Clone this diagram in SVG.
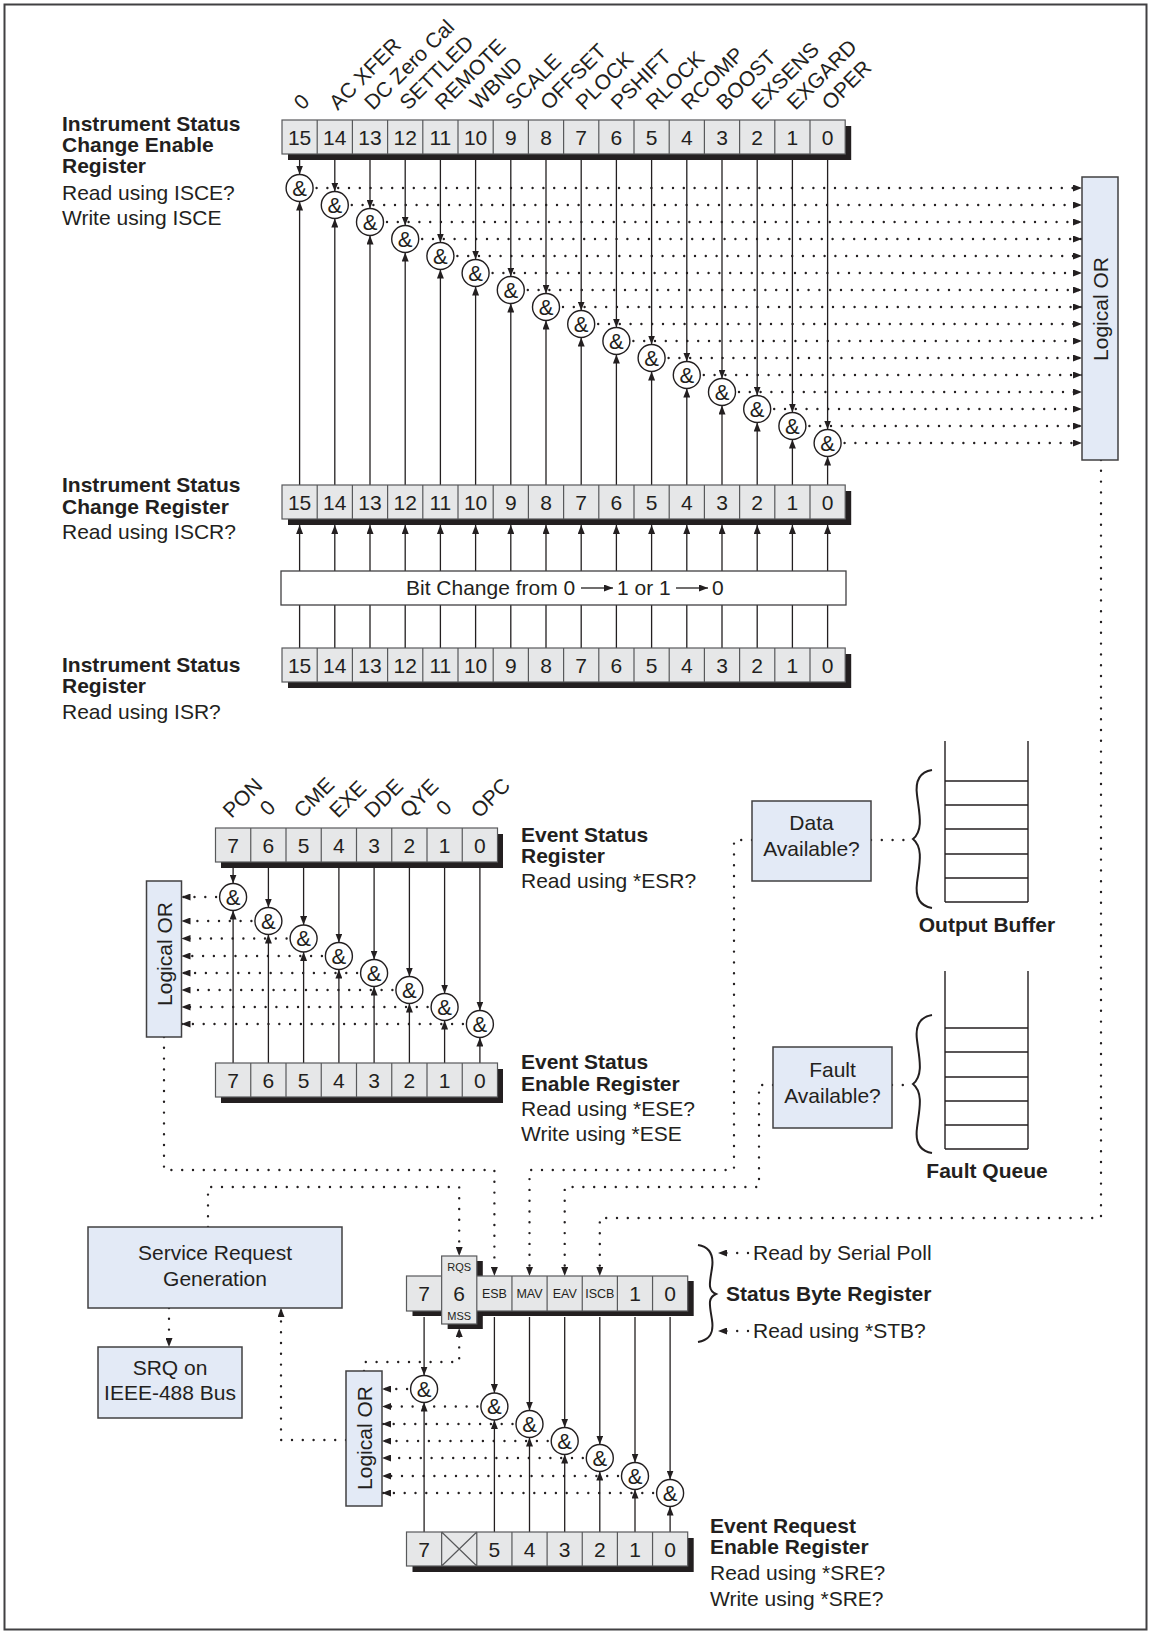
<svg xmlns="http://www.w3.org/2000/svg" width="1151" height="1634" viewBox="0 0 1151 1634">
<defs>
<marker id="a" viewBox="0 0 9 7" refX="9" refY="3.5" markerWidth="9" markerHeight="7" markerUnits="userSpaceOnUse" orient="auto"><path d="M0,0 L9,3.5 L0,7 z" fill="#231f20"/></marker>
<style>
text{font-family:"Liberation Sans",Arial,sans-serif;fill:#231f20}
.t{font-size:21px}
.b{font-size:21px;font-weight:bold}
.num{font-size:21px;text-anchor:middle}
.sm{font-size:12.5px;text-anchor:middle}
.xs{font-size:11px;text-anchor:middle}
.mid{text-anchor:middle}
.reg{fill:#e6e7e8;stroke:#58595b;stroke-width:1.2}
.sh{fill:#231f20}
.dv{stroke:#58595b;stroke-width:1.2;fill:none}
.box{fill:#e3eaf6;stroke:#414042;stroke-width:1.5}
.g{fill:#fff;stroke:#231f20;stroke-width:1.4}
.amp{font-size:22px;text-anchor:middle}
.ln{stroke:#231f20;stroke-width:1.3;fill:none}
.ar{marker-end:url(#a)}
.dt{stroke:#231f20;stroke-width:2.4;stroke-linecap:round;stroke-dasharray:0 10.8;fill:none}
.st{stroke:#231f20;stroke-width:1.4;fill:none}
.br{stroke:#231f20;stroke-width:2;fill:none}
</style>
</defs>
<rect x="4.5" y="4.5" width="1142" height="1625" fill="#fff" stroke="#414042" stroke-width="2"/>

<g id="connectors">
<path class="ln ar" d="M299.6,160V174.5"/><path class="ln ar" d="M334.8,160V191.5"/><path class="ln ar" d="M370,160V208.5"/><path class="ln ar" d="M405.2,160V225.5"/>
<path class="ln ar" d="M440.4,160V242.5"/><path class="ln ar" d="M475.6,160V259.5"/><path class="ln ar" d="M510.8,160V276.5"/><path class="ln ar" d="M546,160V293.5"/>
<path class="ln ar" d="M581.2,160V310.5"/><path class="ln ar" d="M616.4,160V327.5"/><path class="ln ar" d="M651.6,160V344.5"/><path class="ln ar" d="M686.8,160V361.5"/>
<path class="ln ar" d="M722,160V378.5"/><path class="ln ar" d="M757.2,160V395.5"/><path class="ln ar" d="M792.4,160V412.5"/><path class="ln ar" d="M827.6,160V429.5"/>
<path class="ln ar" d="M299.6,485V201.5"/><path class="ln ar" d="M334.8,485V218.5"/><path class="ln ar" d="M370,485V235.5"/><path class="ln ar" d="M405.2,485V252.5"/>
<path class="ln ar" d="M440.4,485V269.5"/><path class="ln ar" d="M475.6,485V286.5"/><path class="ln ar" d="M510.8,485V303.5"/><path class="ln ar" d="M546,485V320.5"/>
<path class="ln ar" d="M581.2,485V337.5"/><path class="ln ar" d="M616.4,485V354.5"/><path class="ln ar" d="M651.6,485V371.5"/><path class="ln ar" d="M686.8,485V388.5"/>
<path class="ln ar" d="M722,485V405.5"/><path class="ln ar" d="M757.2,485V422.5"/><path class="ln ar" d="M792.4,485V439.5"/><path class="ln ar" d="M827.6,485V456.5"/>
<path class="dt ar" d="M316.6,188H1082"/><path class="dt ar" d="M351.8,205H1082"/><path class="dt ar" d="M387,222H1082"/><path class="dt ar" d="M422.2,239H1082"/>
<path class="dt ar" d="M457.4,256H1082"/><path class="dt ar" d="M492.6,273H1082"/><path class="dt ar" d="M527.8,290H1082"/><path class="dt ar" d="M563,307H1082"/>
<path class="dt ar" d="M598.2,324H1082"/><path class="dt ar" d="M633.4,341H1082"/><path class="dt ar" d="M668.6,358H1082"/><path class="dt ar" d="M703.8,375H1082"/>
<path class="dt ar" d="M739,392H1082"/><path class="dt ar" d="M774.2,409H1082"/><path class="dt ar" d="M809.4,426H1082"/><path class="dt ar" d="M844.6,443H1082"/>
<path class="ln ar" d="M299.6,571V525"/><path class="ln ar" d="M334.8,571V525"/><path class="ln ar" d="M370,571V525"/><path class="ln ar" d="M405.2,571V525"/>
<path class="ln ar" d="M440.4,571V525"/><path class="ln ar" d="M475.6,571V525"/><path class="ln ar" d="M510.8,571V525"/><path class="ln ar" d="M546,571V525"/>
<path class="ln ar" d="M581.2,571V525"/><path class="ln ar" d="M616.4,571V525"/><path class="ln ar" d="M651.6,571V525"/><path class="ln ar" d="M686.8,571V525"/>
<path class="ln ar" d="M722,571V525"/><path class="ln ar" d="M757.2,571V525"/><path class="ln ar" d="M792.4,571V525"/><path class="ln ar" d="M827.6,571V525"/>
<path class="ln" d="M299.6,648V605M334.8,648V605M370,648V605M405.2,648V605M440.4,648V605M475.6,648V605M510.8,648V605M546,648V605M581.2,648V605M616.4,648V605M651.6,648V605M686.8,648V605M722,648V605M757.2,648V605M792.4,648V605M827.6,648V605"/>

<path class="ln ar" d="M233.1,868V883.5"/><path class="ln ar" d="M268.4,868V907.5"/><path class="ln ar" d="M303.6,868V925"/><path class="ln ar" d="M338.9,868V942.5"/>
<path class="ln ar" d="M374.1,868V959.5"/><path class="ln ar" d="M409.4,868V976.5"/><path class="ln ar" d="M444.6,868V993.5"/><path class="ln ar" d="M479.9,868V1010.5"/>
<path class="ln ar" d="M233.1,1063V910.5"/><path class="ln ar" d="M268.4,1063V934.5"/><path class="ln ar" d="M303.6,1063V952"/><path class="ln ar" d="M338.9,1063V969.5"/>
<path class="ln ar" d="M374.1,1063V986.5"/><path class="ln ar" d="M409.4,1063V1003.5"/><path class="ln ar" d="M444.6,1063V1020.5"/><path class="ln ar" d="M479.9,1063V1037.5"/>
<path class="dt ar" d="M216.1,897H181.5"/><path class="dt ar" d="M251.4,921H181.5"/><path class="dt ar" d="M286.6,938.5H181.5"/><path class="dt ar" d="M321.9,956H181.5"/>
<path class="dt ar" d="M357.1,973H181.5"/><path class="dt ar" d="M392.4,990H181.5"/><path class="dt ar" d="M427.6,1007H181.5"/><path class="dt ar" d="M462.9,1024H181.5"/>

<path class="ln ar" d="M424.1,1317V1375.5"/><path class="ln ar" d="M494.4,1317V1393"/><path class="ln ar" d="M529.5,1317V1410.5"/><path class="ln ar" d="M564.7,1317V1427.5"/>
<path class="ln ar" d="M599.8,1317V1444.5"/><path class="ln ar" d="M635,1317V1462.5"/><path class="ln ar" d="M670.1,1317V1479.5"/>
<path class="ln ar" d="M424.1,1532V1402.5"/><path class="ln ar" d="M494.4,1532V1420"/><path class="ln ar" d="M529.5,1532V1437.5"/><path class="ln ar" d="M564.7,1532V1454.5"/>
<path class="ln ar" d="M599.8,1532V1471.5"/><path class="ln ar" d="M635,1532V1489.5"/><path class="ln ar" d="M670.1,1532V1506.5"/>
<path class="dt ar" d="M407.1,1389H382"/><path class="dt ar" d="M477.4,1406.5H382"/><path class="dt ar" d="M512.5,1424H382"/><path class="dt ar" d="M547.7,1441H382"/>
<path class="dt ar" d="M582.8,1458H382"/><path class="dt ar" d="M618,1476H382"/><path class="dt ar" d="M653.1,1493H382"/>

<path class="dt ar" d="M1101,460V1218H599.8V1276"/>
<path class="dt ar" d="M164,1037V1170H494.4V1276"/>
<path class="dt ar" d="M752,840H734V1170H529.5V1276"/>
<path class="dt ar" d="M773,1085H759V1187H564.7V1276"/>
<path class="dt" d="M871,840H912"/>
<path class="dt" d="M892,1085H912"/>
<path class="dt ar" d="M208,1227V1187H459.2V1256"/>
<path class="dt ar" d="M169,1308V1347"/>
<path class="dt ar" d="M346,1440H281V1308"/>
<path class="dt ar" d="M364,1371V1362H459.2V1328"/>
<path class="dt ar" d="M748,1253H718"/>
<path class="dt ar" d="M748,1331H718"/>
</g>

<g id="isce-register">
<rect class="sh" x="288" y="126" width="563.2" height="34"/>
<rect class="reg" x="282" y="120" width="563.2" height="34"/>
<path class="dv" d="M317.2,120v34M352.4,120v34M387.6,120v34M422.8,120v34M458,120v34M493.2,120v34M528.4,120v34M563.6,120v34M598.8,120v34M634,120v34M669.2,120v34M704.4,120v34M739.6,120v34M774.8,120v34M810,120v34"/>
<text class="num" x="299.6" y="145">15</text><text class="num" x="334.8" y="145">14</text><text class="num" x="370" y="145">13</text><text class="num" x="405.2" y="145">12</text>
<text class="num" x="440.4" y="145">11</text><text class="num" x="475.6" y="145">10</text><text class="num" x="510.8" y="145">9</text><text class="num" x="546" y="145">8</text>
<text class="num" x="581.2" y="145">7</text><text class="num" x="616.4" y="145">6</text><text class="num" x="651.6" y="145">5</text><text class="num" x="686.8" y="145">4</text>
<text class="num" x="722" y="145">3</text><text class="num" x="757.2" y="145">2</text><text class="num" x="792.4" y="145">1</text><text class="num" x="827.6" y="145">0</text>
<text class="t" transform="translate(302.6,111) rotate(-45)">0</text>
<text class="t" transform="translate(337.8,111) rotate(-45)">AC XFER</text>
<text class="t" transform="translate(373,111) rotate(-45)">DC Zero Cal</text>
<text class="t" transform="translate(408.2,111) rotate(-45)">SETTLED</text>
<text class="t" transform="translate(443.4,111) rotate(-45)">REMOTE</text>
<text class="t" transform="translate(478.6,111) rotate(-45)">WBND</text>
<text class="t" transform="translate(513.8,111) rotate(-45)">SCALE</text>
<text class="t" transform="translate(549,111) rotate(-45)">OFFSET</text>
<text class="t" transform="translate(584.2,111) rotate(-45)">PLOCK</text>
<text class="t" transform="translate(619.4,111) rotate(-45)">PSHIFT</text>
<text class="t" transform="translate(654.6,111) rotate(-45)">RLOCK</text>
<text class="t" transform="translate(689.8,111) rotate(-45)">RCOMP</text>
<text class="t" transform="translate(725,111) rotate(-45)">BOOST</text>
<text class="t" transform="translate(760.2,111) rotate(-45)">EXSENS</text>
<text class="t" transform="translate(795.4,111) rotate(-45)">EXGARD</text>
<text class="t" transform="translate(830.6,111) rotate(-45)">OPER</text>
<text class="b" x="62" y="131">Instrument Status</text>
<text class="b" x="62" y="152">Change Enable</text>
<text class="b" x="62" y="173">Register</text>
<text class="t" x="62" y="200">Read using ISCE?</text>
<text class="t" x="62" y="225">Write using ISCE</text>
</g>

<g id="isce-gates">
<circle class="g" cx="299.6" cy="188" r="13.5"/><circle class="g" cx="334.8" cy="205" r="13.5"/><circle class="g" cx="370" cy="222" r="13.5"/><circle class="g" cx="405.2" cy="239" r="13.5"/>
<circle class="g" cx="440.4" cy="256" r="13.5"/><circle class="g" cx="475.6" cy="273" r="13.5"/><circle class="g" cx="510.8" cy="290" r="13.5"/><circle class="g" cx="546" cy="307" r="13.5"/>
<circle class="g" cx="581.2" cy="324" r="13.5"/><circle class="g" cx="616.4" cy="341" r="13.5"/><circle class="g" cx="651.6" cy="358" r="13.5"/><circle class="g" cx="686.8" cy="375" r="13.5"/>
<circle class="g" cx="722" cy="392" r="13.5"/><circle class="g" cx="757.2" cy="409" r="13.5"/><circle class="g" cx="792.4" cy="426" r="13.5"/><circle class="g" cx="827.6" cy="443" r="13.5"/>
<text class="amp" x="299.6" y="195.8">&amp;</text><text class="amp" x="334.8" y="212.8">&amp;</text><text class="amp" x="370" y="229.8">&amp;</text><text class="amp" x="405.2" y="246.8">&amp;</text>
<text class="amp" x="440.4" y="263.8">&amp;</text><text class="amp" x="475.6" y="280.8">&amp;</text><text class="amp" x="510.8" y="297.8">&amp;</text><text class="amp" x="546" y="314.8">&amp;</text>
<text class="amp" x="581.2" y="331.8">&amp;</text><text class="amp" x="616.4" y="348.8">&amp;</text><text class="amp" x="651.6" y="365.8">&amp;</text><text class="amp" x="686.8" y="382.8">&amp;</text>
<text class="amp" x="722" y="399.8">&amp;</text><text class="amp" x="757.2" y="416.8">&amp;</text><text class="amp" x="792.4" y="433.8">&amp;</text><text class="amp" x="827.6" y="450.8">&amp;</text>
</g>

<g id="isce-or">
<rect class="box" x="1082" y="177" width="36" height="283"/>
<text class="t mid" transform="translate(1107.5,309) rotate(-90)">Logical OR</text>
</g>

<g id="iscr-register">
<rect class="sh" x="288" y="491" width="563.2" height="34"/>
<rect class="reg" x="282" y="485" width="563.2" height="34"/>
<path class="dv" d="M317.2,485v34M352.4,485v34M387.6,485v34M422.8,485v34M458,485v34M493.2,485v34M528.4,485v34M563.6,485v34M598.8,485v34M634,485v34M669.2,485v34M704.4,485v34M739.6,485v34M774.8,485v34M810,485v34"/>
<text class="num" x="299.6" y="510">15</text><text class="num" x="334.8" y="510">14</text><text class="num" x="370" y="510">13</text><text class="num" x="405.2" y="510">12</text>
<text class="num" x="440.4" y="510">11</text><text class="num" x="475.6" y="510">10</text><text class="num" x="510.8" y="510">9</text><text class="num" x="546" y="510">8</text>
<text class="num" x="581.2" y="510">7</text><text class="num" x="616.4" y="510">6</text><text class="num" x="651.6" y="510">5</text><text class="num" x="686.8" y="510">4</text>
<text class="num" x="722" y="510">3</text><text class="num" x="757.2" y="510">2</text><text class="num" x="792.4" y="510">1</text><text class="num" x="827.6" y="510">0</text>
<text class="b" x="62" y="492">Instrument Status</text>
<text class="b" x="62" y="514">Change Register</text>
<text class="t" x="62" y="539">Read using ISCR?</text>
</g>

<g id="bit-change">
<rect x="281" y="571" width="565" height="34" fill="#fff" stroke="#414042" stroke-width="1.3"/>
<text class="t" x="406" y="595">Bit Change from 0</text>
<path class="ln ar" d="M581,588H613"/>
<text class="t" x="617" y="595">1 or 1</text>
<path class="ln ar" d="M676,588H708"/>
<text class="t" x="712" y="595">0</text>
</g>

<g id="isr-register">
<rect class="sh" x="288" y="654" width="563.2" height="34"/>
<rect class="reg" x="282" y="648" width="563.2" height="34"/>
<path class="dv" d="M317.2,648v34M352.4,648v34M387.6,648v34M422.8,648v34M458,648v34M493.2,648v34M528.4,648v34M563.6,648v34M598.8,648v34M634,648v34M669.2,648v34M704.4,648v34M739.6,648v34M774.8,648v34M810,648v34"/>
<text class="num" x="299.6" y="673">15</text><text class="num" x="334.8" y="673">14</text><text class="num" x="370" y="673">13</text><text class="num" x="405.2" y="673">12</text>
<text class="num" x="440.4" y="673">11</text><text class="num" x="475.6" y="673">10</text><text class="num" x="510.8" y="673">9</text><text class="num" x="546" y="673">8</text>
<text class="num" x="581.2" y="673">7</text><text class="num" x="616.4" y="673">6</text><text class="num" x="651.6" y="673">5</text><text class="num" x="686.8" y="673">4</text>
<text class="num" x="722" y="673">3</text><text class="num" x="757.2" y="673">2</text><text class="num" x="792.4" y="673">1</text><text class="num" x="827.6" y="673">0</text>
<text class="b" x="62" y="672">Instrument Status</text>
<text class="b" x="62" y="693">Register</text>
<text class="t" x="62" y="719">Read using ISR?</text>
</g>

<g id="esr-register">
<rect class="sh" x="221" y="834" width="282" height="34"/>
<rect class="reg" x="215.5" y="828" width="282" height="34"/>
<path class="dv" d="M250.75,828v34M286,828v34M321.25,828v34M356.5,828v34M391.75,828v34M427,828v34M462.25,828v34"/>
<text class="num" x="233.1" y="853">7</text><text class="num" x="268.4" y="853">6</text><text class="num" x="303.6" y="853">5</text><text class="num" x="338.9" y="853">4</text>
<text class="num" x="374.1" y="853">3</text><text class="num" x="409.4" y="853">2</text><text class="num" x="444.6" y="853">1</text><text class="num" x="479.9" y="853">0</text>
<text class="t" transform="translate(231.5,819) rotate(-45)">PON</text>
<text class="t" transform="translate(268.5,817) rotate(-45)">0</text>
<text class="t" transform="translate(302.6,819) rotate(-45)">CME</text>
<text class="t" transform="translate(337.9,819) rotate(-45)">EXE</text>
<text class="t" transform="translate(373.1,819) rotate(-45)">DDE</text>
<text class="t" transform="translate(408.4,819) rotate(-45)">QYE</text>
<text class="t" transform="translate(444.7,817) rotate(-45)">0</text>
<text class="t" transform="translate(479.4,819) rotate(-45)">OPC</text>
<text class="b" x="521" y="842">Event Status</text>
<text class="b" x="521" y="863">Register</text>
<text class="t" x="521" y="888">Read using *ESR?</text>
</g>

<g id="es-gates">
<circle class="g" cx="233.1" cy="897" r="13.5"/><circle class="g" cx="268.4" cy="921" r="13.5"/><circle class="g" cx="303.6" cy="938.5" r="13.5"/><circle class="g" cx="338.9" cy="956" r="13.5"/>
<circle class="g" cx="374.1" cy="973" r="13.5"/><circle class="g" cx="409.4" cy="990" r="13.5"/><circle class="g" cx="444.6" cy="1007" r="13.5"/><circle class="g" cx="479.9" cy="1024" r="13.5"/>
<text class="amp" x="233.1" y="904.8">&amp;</text><text class="amp" x="268.4" y="928.8">&amp;</text><text class="amp" x="303.6" y="946.3">&amp;</text><text class="amp" x="338.9" y="963.8">&amp;</text>
<text class="amp" x="374.1" y="980.8">&amp;</text><text class="amp" x="409.4" y="997.8">&amp;</text><text class="amp" x="444.6" y="1014.8">&amp;</text><text class="amp" x="479.9" y="1031.8">&amp;</text>
</g>

<g id="es-or">
<rect class="box" x="146.5" y="881" width="35" height="156"/>
<text class="t mid" transform="translate(171.5,954) rotate(-90)">Logical OR</text>
</g>

<g id="ese-register">
<rect class="sh" x="221" y="1069" width="282" height="34"/>
<rect class="reg" x="215.5" y="1063" width="282" height="34"/>
<path class="dv" d="M250.75,1063v34M286,1063v34M321.25,1063v34M356.5,1063v34M391.75,1063v34M427,1063v34M462.25,1063v34"/>
<text class="num" x="233.1" y="1088">7</text><text class="num" x="268.4" y="1088">6</text><text class="num" x="303.6" y="1088">5</text><text class="num" x="338.9" y="1088">4</text>
<text class="num" x="374.1" y="1088">3</text><text class="num" x="409.4" y="1088">2</text><text class="num" x="444.6" y="1088">1</text><text class="num" x="479.9" y="1088">0</text>
<text class="b" x="521" y="1069">Event Status</text>
<text class="b" x="521" y="1091">Enable Register</text>
<text class="t" x="521" y="1116">Read using *ESE?</text>
<text class="t" x="521" y="1141">Write using *ESE</text>
</g>

<g id="output-buffer">
<path class="st" d="M945,741V902M1028,741V902M945,781H1028M945,805H1028M945,829H1028M945,854H1028M945,878H1028M945,902H1028"/>
<path class="br" d="M932,770C920,772 915,780 917,795C919,812 924,830 913,839C924,848 919,866 917,883C915,898 920,906 932,908"/>
<text class="b mid" x="987" y="932">Output Buffer</text>
</g>

<g id="data-available">
<rect class="box" x="752" y="801" width="119" height="80"/>
<text class="t mid" x="811.5" y="830">Data</text>
<text class="t mid" x="811.5" y="856">Available?</text>
</g>

<g id="fault-queue">
<path class="st" d="M945,971V1149M1028,971V1149M945,1028H1028M945,1052H1028M945,1077H1028M945,1101H1028M945,1125H1028M945,1149H1028"/>
<path class="br" d="M932,1015C920,1017 915,1025 917,1040C919,1057 924,1075 913,1084C924,1093 919,1111 917,1128C915,1143 920,1151 932,1153"/>
<text class="b mid" x="987" y="1178">Fault Queue</text>
</g>

<g id="fault-available">
<rect class="box" x="773" y="1047" width="119" height="81"/>
<text class="t mid" x="832.5" y="1077">Fault</text>
<text class="t mid" x="832.5" y="1103">Available?</text>
</g>

<g id="service-request">
<rect class="box" x="88" y="1227" width="254" height="81"/>
<text class="t mid" x="215" y="1260">Service Request</text>
<text class="t mid" x="215" y="1286">Generation</text>
</g>

<g id="srq">
<rect class="box" x="98" y="1347" width="144" height="71"/>
<text class="t mid" x="170" y="1375">SRQ on</text>
<text class="t mid" x="170" y="1400">IEEE-488 Bus</text>
</g>

<g id="status-byte-register">
<rect class="sh" x="412.5" y="1281" width="281.2" height="35"/>
<rect class="sh" x="447.65" y="1261" width="35.15" height="68"/>
<rect class="reg" x="406.5" y="1276" width="281.2" height="35"/>
<rect class="reg" x="441.65" y="1256" width="35.15" height="68"/>
<path class="dv" d="M511.95,1276v35M547.1,1276v35M582.25,1276v35M617.4,1276v35M652.55,1276v35"/>
<text class="num" x="424.1" y="1301">7</text>
<text class="num" x="459.2" y="1301">6</text>
<text class="xs" x="459.2" y="1271">RQS</text>
<text class="xs" x="459.2" y="1320">MSS</text>
<text class="sm" x="494.4" y="1298">ESB</text>
<text class="sm" x="529.5" y="1298">MAV</text>
<text class="sm" x="564.7" y="1298">EAV</text>
<text class="sm" x="599.8" y="1298">ISCB</text>
<text class="num" x="635" y="1301">1</text>
<text class="num" x="670.1" y="1301">0</text>
<path class="br" d="M698,1245C710,1247 714,1255 712,1268C710,1282 707,1290 716,1294C707,1298 710,1306 712,1320C714,1333 710,1340 698,1342"/>
<text class="t" x="753" y="1260">Read by Serial Poll</text>
<text class="b" x="726" y="1301">Status Byte Register</text>
<text class="t" x="753" y="1338">Read using *STB?</text>
</g>

<g id="sb-gates">
<circle class="g" cx="424.1" cy="1389" r="13.5"/><circle class="g" cx="494.4" cy="1406.5" r="13.5"/><circle class="g" cx="529.5" cy="1424" r="13.5"/><circle class="g" cx="564.7" cy="1441" r="13.5"/>
<circle class="g" cx="599.8" cy="1458" r="13.5"/><circle class="g" cx="635" cy="1476" r="13.5"/><circle class="g" cx="670.1" cy="1493" r="13.5"/>
<text class="amp" x="424.1" y="1396.8">&amp;</text><text class="amp" x="494.4" y="1414.3">&amp;</text><text class="amp" x="529.5" y="1431.8">&amp;</text><text class="amp" x="564.7" y="1448.8">&amp;</text>
<text class="amp" x="599.8" y="1465.8">&amp;</text><text class="amp" x="635" y="1483.8">&amp;</text><text class="amp" x="670.1" y="1500.8">&amp;</text>
</g>

<g id="sb-or">
<rect class="box" x="346" y="1371" width="36" height="135"/>
<text class="t mid" transform="translate(371.5,1438) rotate(-90)">Logical OR</text>
</g>

<g id="sre-register">
<rect class="sh" x="412.5" y="1538" width="281.2" height="34"/>
<rect class="reg" x="406.5" y="1532" width="281.2" height="34"/>
<path class="dv" d="M441.65,1532v34M476.8,1532v34M511.95,1532v34M547.1,1532v34M582.25,1532v34M617.4,1532v34M652.55,1532v34M441.65,1532L476.8,1566M476.8,1532L441.65,1566"/>
<text class="num" x="424.1" y="1557">7</text><text class="num" x="494.4" y="1557">5</text><text class="num" x="529.5" y="1557">4</text><text class="num" x="564.7" y="1557">3</text>
<text class="num" x="599.8" y="1557">2</text><text class="num" x="635" y="1557">1</text><text class="num" x="670.1" y="1557">0</text>
<text class="b" x="710" y="1533">Event Request</text>
<text class="b" x="710" y="1554">Enable Register</text>
<text class="t" x="710" y="1580">Read using *SRE?</text>
<text class="t" x="710" y="1606">Write using *SRE?</text>
</g>
</svg>
